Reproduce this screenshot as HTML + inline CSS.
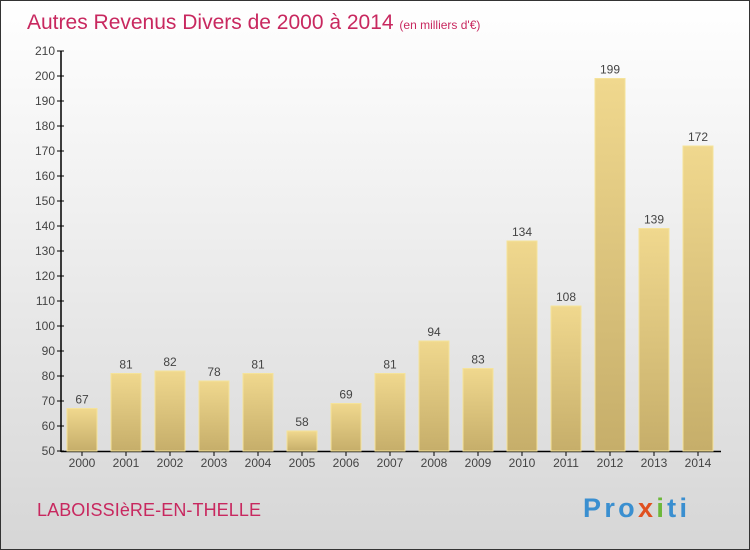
<!DOCTYPE html>
<html><head><meta charset="utf-8"><style>
body{margin:0}
#c{position:relative;width:748px;height:548px;border:1px solid #333;background:linear-gradient(#fff,#f3f3f3 30%,#d6d6d6);font-family:"Liberation Sans",sans-serif;overflow:hidden}
</style></head><body>
<div id="c">
<svg width="748" height="548" id="s">
<defs><linearGradient id="g" x1="0" y1="0" x2="0" y2="1"><stop offset="0" stop-color="#f0d88e"/><stop offset="1" stop-color="#c6ae6a"/></linearGradient></defs>
<text x="26" y="28" font-size="21" fill="#c8285f">Autres Revenus Divers de 2000 à 2014 <tspan font-size="12">(en milliers d'€)</tspan></text>
<text x="36" y="515" font-size="18" fill="#c8285f" textLength="224">LABOISSIèRE-EN-THELLE</text>
<text x="582" y="516" font-size="27" font-weight="bold" fill="#3a8fd0" textLength="104">Pro<tspan fill="#e05020">x</tspan><tspan fill="#6cb83a">i</tspan>ti</text>
<g id="ax"></g><g id="bars"></g>
</svg></div>
<script>
const years=["2000","2001","2002","2003","2004","2005","2006","2007","2008","2009","2010","2011","2012","2013","2014"];
const values=[67,81,82,78,81,58,69,81,94,83,134,108,199,139,172];
const yTicks=[50,60,70,80,90,100,110,120,130,140,150,160,170,180,190,200,210];
const NS="http://www.w3.org/2000/svg";
const y=v=>450-(v-50)*2.5, x=i=>81+i*44;
function mk(t,a,p,txt){const e=document.createElementNS(NS,t);for(const k in a)e.setAttribute(k,a[k]);if(txt!=null)e.textContent=txt;p.appendChild(e);return e;}
const ax=document.getElementById('ax'),bg=document.getElementById('bars');
let l=mk('line',{x1:60,y1:50,x2:60,y2:451,stroke:'#000','stroke-width':1.5},ax);


l=mk('line',{x1:60,y1:450.5,x2:720,y2:450.5,stroke:'#000','stroke-width':1.5},ax);


yTicks.forEach(v=>{
 const t=mk('line',{x1:56,y1:y(v),x2:63,y2:y(v),stroke:'#000'},ax);
 
 
 const tx=mk('text',{x:54,y:y(v)+4,'text-anchor':'end','font-size':12,fill:'#444'},ax,v);
 
 
});
years.forEach((yr,i)=>{
 const v=values[i];
 const r=mk('rect',{x:x(i)-15,y:y(v),width:30,height:450-y(v),fill:'url(#g)',stroke:'#f5e39a','stroke-width':1},bg);
 
 
 const t=mk('text',{x:x(i),y:y(v)-5,'text-anchor':'middle','font-size':12,fill:'#444'},bg,v);
 
 
 const k=mk('line',{x1:x(i),y1:450,x2:x(i),y2:455,stroke:'#000'},ax);
 
 
 const xl=mk('text',{x:x(i),y:466,'text-anchor':'middle','font-size':12,fill:'#444'},ax,yr);
 
 
});
</script>
</body></html>
